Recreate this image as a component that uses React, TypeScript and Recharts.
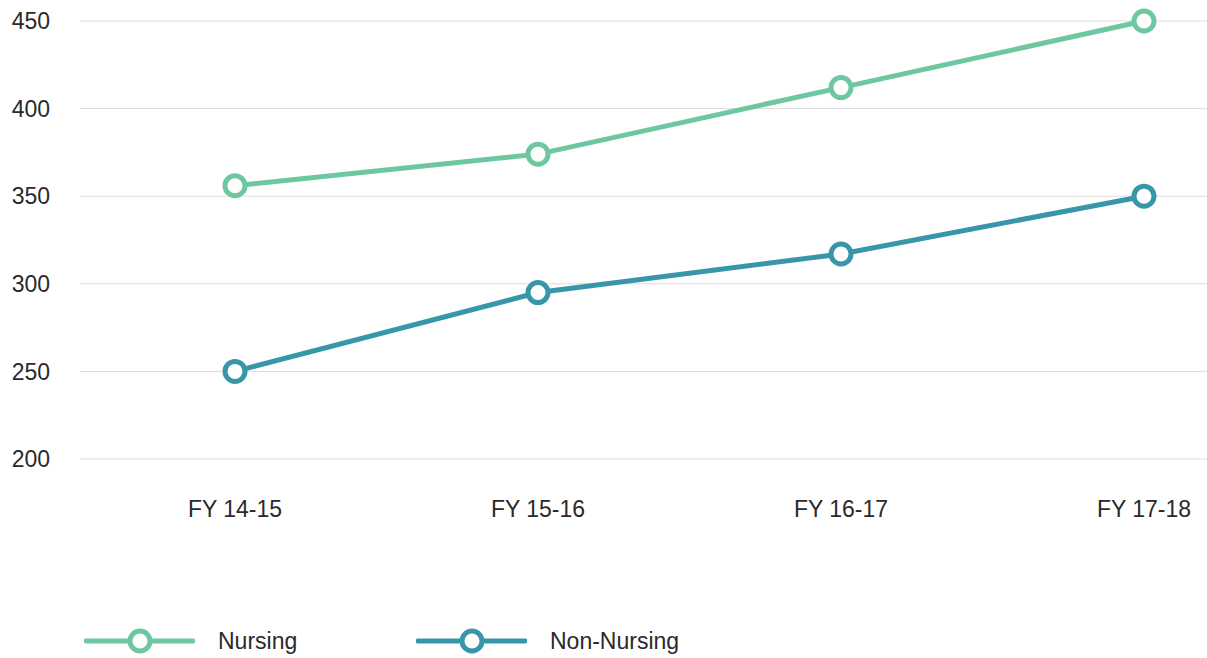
import { LineChart, Line, XAxis, YAxis, CartesianGrid, Legend } from "recharts";

// values
const years = ["FY 14-15", "FY 15-16", "FY 16-17", "FY 17-18"];
const nursing = [356, 374, 412, 450];
const nonNursing = [250, 295, 317, 350];
const yTicks = [200, 250, 300, 350, 400, 450];

const FONT = "'Liberation Sans', Arial, sans-serif";
const TEXT = "#2a2a2a";
const W = 1207;
const H = 658;

const SERIES = [
  { key: "nursing", name: "Nursing", color: "#6DC8A1" },
  { key: "nonNursing", name: "Non-Nursing", color: "#3797A8" },
];

const data = years.map((year, i) => ({ year, nursing: nursing[i], nonNursing: nonNursing[i] }));

function LegendContent() {
  return (
    <div style={{ position: "relative", width: W, height: 40 }}>
      {SERIES.map((s, i) => (
        <div
          key={s.key}
          style={{ position: "absolute", left: 84 + 332 * i, top: 0, height: 40, display: "flex", alignItems: "center" }}
        >
          <svg width={111} height={40}>
            <line x1={2} y1={20} x2={109} y2={20} stroke={s.color} strokeWidth={5} strokeLinecap="round" />
            <circle cx={56} cy={20} r={10} fill="#fff" stroke={s.color} strokeWidth={5} />
          </svg>
          <span style={{ marginLeft: 23, fontFamily: FONT, fontSize: 23, color: TEXT }}>{s.name}</span>
        </div>
      ))}
    </div>
  );
}

export default function App() {
  return (
    <div style={{ position: "absolute", left: 0, top: 0, width: W, height: H, fontFamily: FONT, overflow: "hidden" }}>
      <LineChart width={W} height={H} data={data} margin={{ top: 21, right: 0, left: 8, bottom: 99 }}>
        <CartesianGrid vertical={false} stroke="#dcdcdc" strokeWidth={1} />
        <XAxis
          dataKey="year"
          axisLine={false}
          tickLine={false}
          tickSize={0}
          tickMargin={42}
          height={60}
          padding={{ left: 155, right: 63 }}
          tick={{ fill: TEXT, fontSize: 23, fontFamily: FONT }}
        />
        <YAxis
          domain={[200, 450]}
          ticks={yTicks}
          axisLine={false}
          tickLine={false}
          tickSize={0}
          tickMargin={30}
          width={72}
          tick={{ fill: TEXT, fontSize: 23, fontFamily: FONT }}
        />
        <Legend
          verticalAlign="bottom"
          height={40}
          content={() => <LegendContent />}
          wrapperStyle={{ left: 0, top: 621, bottom: "auto", width: W, height: 40 }}
        />
        {SERIES.map((s) => (
          <Line
            key={s.key}
            type="linear"
            dataKey={s.key}
            name={s.name}
            stroke={s.color}
            strokeWidth={5}
            dot={{ r: 10, fill: "#fff", stroke: s.color, strokeWidth: 5 }}
            activeDot={false}
            isAnimationActive={false}
          />
        ))}
      </LineChart>
    </div>
  );
}
